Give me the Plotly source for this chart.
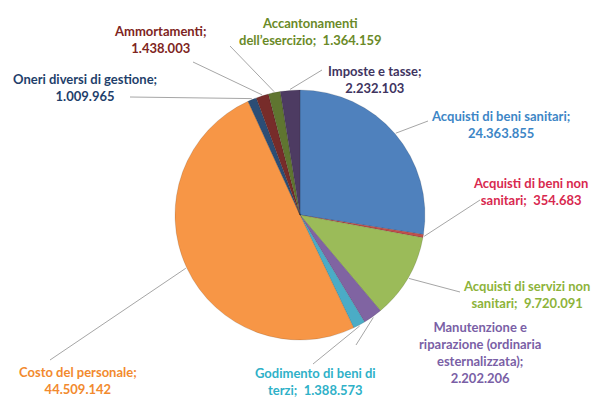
import math
import plotly.graph_objects as go

categories = [
    "Acquisti di beni sanitari",
    "Acquisti di beni non sanitari",
    "Acquisti di servizi non sanitari",
    "Manutenzione e riparazione (ordinaria esternalizzata)",
    "Godimento di beni di terzi",
    "Costo del personale",
    "Oneri diversi di gestione",
    "Ammortamenti",
    "Accantonamenti dell'esercizio",
    "Imposte e tasse",
]
values = [24363855, 354683, 9720091, 2202206, 1388573, 44509142, 1009965, 1438003, 1364159, 2232103]
value_labels = ["24.363.855", "354.683", "9.720.091", "2.202.206", "1.388.573",
                "44.509.142", "1.009.965", "1.438.003", "1.364.159", "2.232.103"]
label_lines = [
    "Acquisti di beni sanitari;<br>{v}",
    "Acquisti di beni non<br>sanitari;  {v}",
    "Acquisti di servizi non<br>sanitari;  {v}",
    "Manutenzione e<br>riparazione (ordinaria<br>esternalizzata);<br>{v}",
    "Godimento di beni di<br>terzi;  {v}",
    "Costo del personale;<br>{v}",
    "Oneri diversi di gestione;<br>{v}",
    "Ammortamenti;<br>{v}",
    "Accantonamenti<br>dell\u2019esercizio;  {v}",
    "Imposte e tasse;<br>{v}",
]
slice_colors = ["#4F81BD", "#C0504D", "#9BBB59", "#8064A2", "#4BACC6",
                "#F79646", "#2C4D75", "#772C2A", "#5F7530", "#4D3B62"]
text_colors = ["#3D86C6", "#D8294F", "#8DB33A", "#7A5FA6", "#2FB1C8",
               "#F28A2E", "#1F3F6B", "#7E2522", "#6A8A28", "#40345F"]

# layout geometry (pixels, top-left origin)
W, H = 596, 400
CX, CY, R = 300, 215, 125
# label centers and leader-line end points
label_pos = [(500, 124), (530, 191), (526, 294), (480, 352), (315, 381),
             (78, 380), (85, 87), (160, 39), (310, 32), (375, 79)]
leader_end = [(428, 121), (480, 200), (460, 292), (356, 345), (313, 364),
              (50, 360), (130, 97), (193, 62), (230, 46), (322, 70)]

fig = go.Figure(go.Pie(
    labels=categories, values=values, sort=False, direction="clockwise",
    rotation=0, textinfo="none", hoverinfo="label+value",
    marker=dict(colors=slice_colors, line=dict(color="rgba(0,0,0,0.25)", width=0.5)),
    domain=dict(x=[(CX - R) / W, (CX + R) / W], y=[1 - (CY + R) / H, 1 - (CY - R) / H]),
    showlegend=False,
))

total = sum(values)
cum = 0
shapes, annotations = [], []
for i, v in enumerate(values):
    mid = (cum + v / 2) / total * 360.0
    cum += v
    th = math.radians(mid)
    ex = CX + (R + 1) * math.sin(th)
    ey = CY - (R + 1) * math.cos(th)
    lx, ly = leader_end[i]
    shapes.append(dict(type="line", xref="paper", yref="paper",
                       x0=ex / W, y0=1 - ey / H, x1=lx / W, y1=1 - ly / H,
                       line=dict(color="#A6A6A6", width=1)))
    px, py = label_pos[i]
    annotations.append(dict(
        x=px / W, y=1 - py / H, xref="paper", yref="paper", showarrow=False,
        text=label_lines[i].format(v=value_labels[i]),
        font=dict(family="Lato", size=13, weight="bold", color=text_colors[i]),
        align="center", xanchor="center", yanchor="middle"))

fig.update_layout(
    width=W, height=H, margin=dict(l=0, r=0, t=0, b=0),
    paper_bgcolor="white", plot_bgcolor="white",
    shapes=shapes, annotations=annotations,
)
fig.write_html("out.html", config={"displayModeBar": False},
               post_script="document.body.style.margin='0';")
